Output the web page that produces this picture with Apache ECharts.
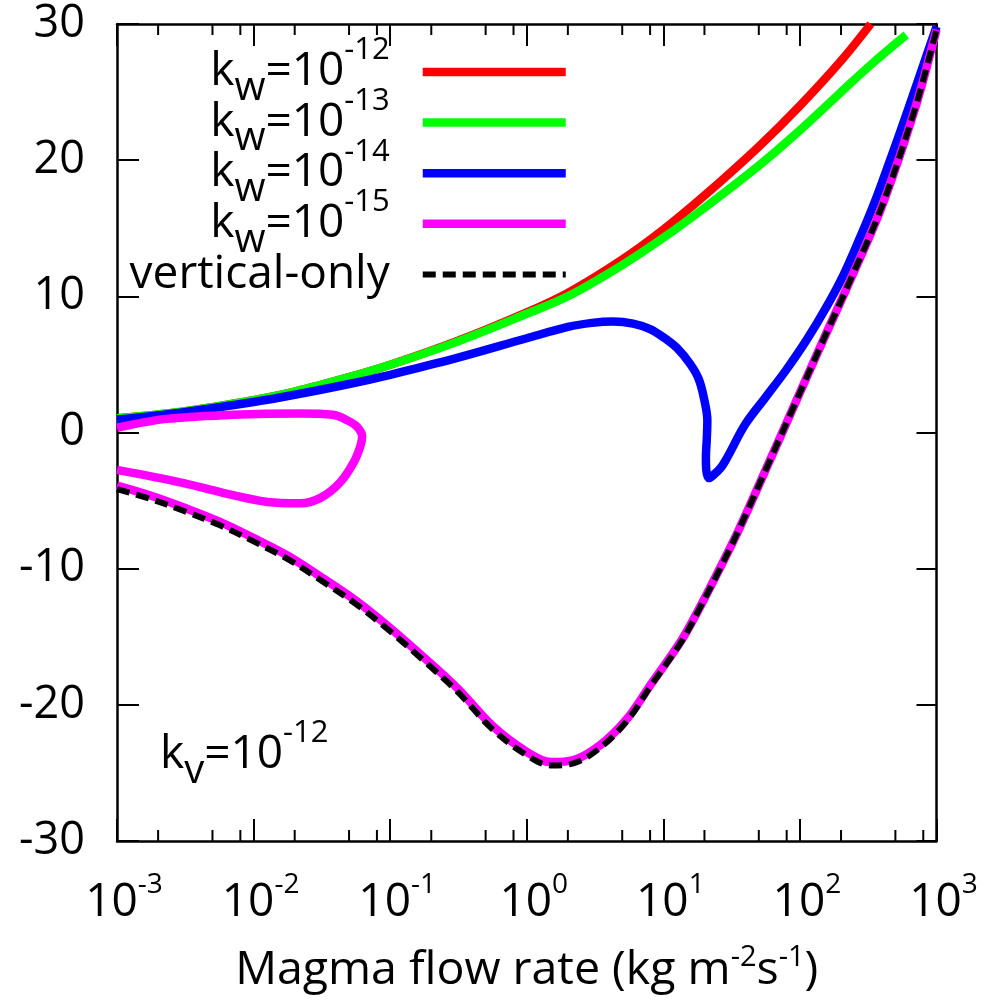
<!DOCTYPE html>
<html>
<head>
<meta charset="utf-8">
<script src="https://cdn.jsdelivr.net/npm/echarts@6/dist/echarts.min.js"></script>
<style>
  html, body { margin: 0; padding: 0; background: #fff; }
  #chart { width: 988px; height: 1002px; }
</style>
</head>
<body>
<div id="chart"></div>
<script>
// Magma flow rate (kg m^-2 s^-1) and the plotted quantity for each horizontal permeability k_w
const flowKw12 = [1e-3, 3e-3, 1e-2, 2e-2, 5e-2, 0.1, 0.3, 1, 2, 5, 10, 20, 50, 100, 200, 330];
const valKw12  = [1.05, 1.53, 2.38, 3.0, 4.06, 4.97, 6.66, 8.82, 10.25, 12.7, 14.9, 17.4, 21.0, 24.0, 27.3, 30.0];

const flowKw13 = [1e-3, 3e-3, 1e-2, 2e-2, 5e-2, 0.1, 0.3, 1, 2, 5, 10, 20, 50, 100, 200, 330, 600];
const valKw13  = [1.05, 1.53, 2.38, 3.0, 4.06, 4.97, 6.62, 8.72, 10.0, 12.3, 14.3, 16.5, 19.6, 22.2, 25.0, 27.0, 29.2];

const flowKw14 = [1e-3, 3e-3, 1e-2, 2e-2, 5e-2, 0.1, 0.3, 1, 2, 3, 4.3, 6, 8, 10, 12.6, 15.8, 18.2, 19.95,
                  21.0, 20.8, 20.5, 20.6, 21.6, 23.4, 26.3, 29.5, 39.8, 56.2, 79.4, 112, 158, 209, 275, 355, 457, 589, 759, 1000];
const valKw14  = [0.95, 1.48, 2.24, 2.77, 3.56, 4.24, 5.44, 6.92, 7.75, 8.05, 8.15, 8.0, 7.6, 7.0, 6.2, 5.0, 3.9, 2.4,
                  0.9, -0.5, -1.8, -2.7, -3.35, -3.1, -2.6, -1.8, 0.6, 2.6, 4.6, 6.8, 9.3, 11.6, 14.3, 17.0, 20.0, 23.1, 26.3, 29.8];

// k_w = 1e-15 has two branches: a closed loop at low flow rates and a lower branch
const flowKw15Loop = [1e-3, 2.29e-3, 7.08e-3, 2.19e-2, 3.8e-2, 4.84e-2, 5.75e-2, 6.24e-2, 6.03e-2, 5.37e-2,
                      4.27e-2, 3.09e-2, 2.19e-2, 1.26e-2, 7.08e-3, 3.02e-3, 1e-3];
const valKw15Loop  = [0.35, 1.0, 1.3, 1.4, 1.3, 0.9, 0.4, -0.3, -1.05, -2.25, -3.7, -4.8, -5.2, -5.1, -4.6, -3.7, -2.75];

const flowKw15Low = [1e-3, 1.78e-3, 3.16e-3, 5.62e-3, 1e-2, 1.78e-2, 3.16e-2, 5.62e-2, 0.1, 0.178, 0.316, 0.562,
                     1.0, 1.5, 2.2, 3.5, 5.5, 8.1, 13.5, 18.6, 26.3, 35.5, 60, 91, 150, 234, 398, 692, 955, 1000];
const valKw15Low  = [-3.9, -4.65, -5.55, -6.55, -7.75, -9.05, -10.65, -12.35, -14.35, -16.55, -18.85, -21.55,
                     -23.45, -24.2, -24.05, -22.9, -20.95, -18.5, -15.3, -12.8, -9.85, -7.2, -2.1, 2.0, 6.9, 11.2, 16.6, 23.7, 28.8, 29.6];

const flowVert = [1e-3, 1.78e-3, 3.16e-3, 5.62e-3, 1e-2, 1.78e-2, 3.16e-2, 5.62e-2, 0.1, 0.178, 0.316, 0.562,
                  1.0, 1.5, 2.2, 3.5, 5.5, 8.1, 13.5, 18.6, 26.3, 35.5, 60, 91, 150, 234, 398, 692, 955, 1000];
const valVert  = [-4.15, -4.9, -5.8, -6.8, -8.0, -9.3, -10.9, -12.6, -14.6, -16.8, -19.1, -21.8,
                  -23.7, -24.45, -24.3, -23.1, -21.1, -18.6, -15.4, -12.85, -9.9, -7.2, -2.1, 2.0, 6.9, 11.2, 16.6, 23.7, 28.8, 29.6];

// Axis ranges and tick values
const X_MIN = 1e-3, X_MAX = 1e3;
const Y_MIN = -30, Y_MAX = 30, Y_STEP = 10;
const xMinorTicks = [2e-3, 5e-3, 8e-3, 2e-2, 5e-2, 8e-2, 0.2, 0.5, 0.8, 2, 5, 8, 20, 50, 80, 200, 500, 800];

const seriesNames = ['kw-12', 'kw-13', 'kw-14', 'kw-15', 'vertical-only'];

const FONT = '"Open Sans", sans-serif';
const pair = (xs, ys) => xs.map((x, i) => [x, ys[i]]);

// rich text pieces: base text, subscript, superscript, spacer
const legendRich = {
  b: { fontFamily: FONT, fontSize: 46, fontWeight: 'normal', color: '#000', lineHeight: 50 },
  w: { fontFamily: FONT, fontSize: 40, fontWeight: 'normal', color: '#000', lineHeight: 50, padding: [33, 0, 0, 0] },
  s: { fontFamily: FONT, fontSize: 31, fontWeight: 'normal', color: '#000', lineHeight: 50, padding: [0, 0, 43, 0] },
  g: { fontFamily: FONT, fontSize: 31, width: 28, lineHeight: 50, padding: [0, 0, 43, 0] }
};
const tickRich = {
  b: { fontFamily: FONT, fontSize: 46, color: '#000', lineHeight: 50 },
  s: { fontFamily: FONT, fontSize: 28, color: '#000', lineHeight: 50, padding: [0, 0, 36, 0] }
};
const nameRich = {
  b: { fontFamily: FONT, fontSize: 46.5, color: '#000', lineHeight: 50 },
  s: { fontFamily: FONT, fontSize: 29, color: '#000', lineHeight: 50, padding: [0, 0, 27, 0] }
};

function legendText(name) {
  if (name.indexOf('kw') === 0) {
    return '{b|k}{w|w}{b|=10}{s|' + name.slice(2) + '}{g| }';
  }
  return '{b|' + name + '}{g| }';
}

const curveStyle = (color) => ({ color: color, width: 8.5, cap: 'butt', join: 'round' });

const frameLine = { show: true, onZero: false, lineStyle: { color: '#000', width: 2.5 } };

const chart = echarts.init(document.getElementById('chart'));

chart.setOption({
  animation: false,
  backgroundColor: '#fff',
  grid: { left: 117, right: 51.5, top: 24, bottom: 161, outerBoundsMode: 'none', containLabel: false },
  title: {
    text: '{b|k}{w|v}{b|=10}{s|-12}',
    left: 160, top: 730, padding: 0,
    textStyle: { fontWeight: 'normal', rich: legendRich }
  },
  legend: {
    data: seriesNames,
    orient: 'vertical',
    align: 'right',
    right: 418, top: 35, padding: 0,
    itemWidth: 143, itemHeight: 14, itemGap: -23.4,
    selectedMode: false,
    formatter: legendText,
    textStyle: { rich: legendRich },
    itemStyle: { opacity: 0 },
    lineStyle: { width: 'inherit' }
  },
  xAxis: [{
    type: 'log', logBase: 10, min: X_MIN, max: X_MAX, position: 'bottom',
    axisLine: frameLine,
    axisTick: { show: true, inside: true, length: 22, lineStyle: { color: '#000', width: 2 } },
    axisLabel: {
      show: true, margin: 37, padding: [0, 0, 0, 14],
      formatter: (v) => '{b|10}{s|' + Math.round(Math.log10(v)) + '}',
      rich: tickRich
    },
    splitLine: { show: false },
    name: '{b|Magma flow rate (kg m}{s|-2}{b|s}{s|-1}{b|)}',
    nameLocation: 'middle', nameGap: 105,
    nameTextStyle: { rich: nameRich }
  }, {
    type: 'log', logBase: 10, min: X_MIN, max: X_MAX, position: 'top',
    axisLine: frameLine,
    axisTick: { show: true, inside: true, length: 22, lineStyle: { color: '#000', width: 2 } },
    axisLabel: { show: false },
    splitLine: { show: false }
  }],
  yAxis: [{
    type: 'value', min: Y_MIN, max: Y_MAX, interval: Y_STEP, position: 'left',
    axisLine: frameLine,
    axisTick: { show: true, inside: true, length: 22, lineStyle: { color: '#000', width: 2 } },
    axisLabel: { show: true, margin: 32, padding: [6, 0, 0, 0], color: '#000', fontFamily: FONT, fontSize: 45 },
    splitLine: { show: false }
  }, {
    type: 'value', min: Y_MIN, max: Y_MAX, interval: Y_STEP, position: 'right',
    axisLine: frameLine,
    axisTick: { show: true, inside: true, length: 20, lineStyle: { color: '#000', width: 2 } },
    axisLabel: { show: false },
    splitLine: { show: false }
  }],
  series: [
    { name: 'kw-12', type: 'line', symbol: 'none', smooth: 0.35, data: pair(flowKw12, valKw12),
      lineStyle: curveStyle('#ff0000'), itemStyle: { color: '#ff0000' } },
    { name: 'kw-13', type: 'line', symbol: 'none', smooth: 0.35, data: pair(flowKw13, valKw13),
      lineStyle: curveStyle('#00ff00'), itemStyle: { color: '#00ff00' } },
    { name: 'kw-14', type: 'line', symbol: 'none', smooth: 0.35, data: pair(flowKw14, valKw14),
      lineStyle: curveStyle('#0000ff'), itemStyle: { color: '#0000ff' } },
    { name: 'kw-15', type: 'line', symbol: 'none', smooth: 0.35, data: pair(flowKw15Loop, valKw15Loop),
      lineStyle: curveStyle('#ff00ff'), itemStyle: { color: '#ff00ff' } },
    { name: 'kw-15', type: 'line', symbol: 'none', smooth: 0.35, data: pair(flowKw15Low, valKw15Low),
      lineStyle: curveStyle('#ff00ff'), itemStyle: { color: '#ff00ff' } },
    { name: 'vertical-only', type: 'line', symbol: 'none', smooth: 0.35, data: pair(flowVert, valVert),
      lineStyle: { color: '#000', width: 6, type: [13, 7], cap: 'butt' }, itemStyle: { color: '#000' } },
    {
      // minor ticks at 2, 5 and 8 of every decade, on the bottom and top frame
      type: 'custom', silent: true, clip: false, z: 10,
      data: xMinorTicks.map(v => [v, Y_MIN]),
      encode: { x: 0, y: 1 },
      renderItem: (params, api) => {
        const v = api.value(0);
        const b = api.coord([v, Y_MIN]);
        const t = api.coord([v, Y_MAX]);
        const st = { stroke: '#000', lineWidth: 2 };
        return {
          type: 'group',
          children: [
            { type: 'line', shape: { x1: b[0], y1: b[1], x2: b[0], y2: b[1] - 11 }, style: st },
            { type: 'line', shape: { x1: t[0], y1: t[1], x2: t[0], y2: t[1] + 11 }, style: st }
          ]
        };
      }
    }
  ]
});
</script>
</body>
</html>
